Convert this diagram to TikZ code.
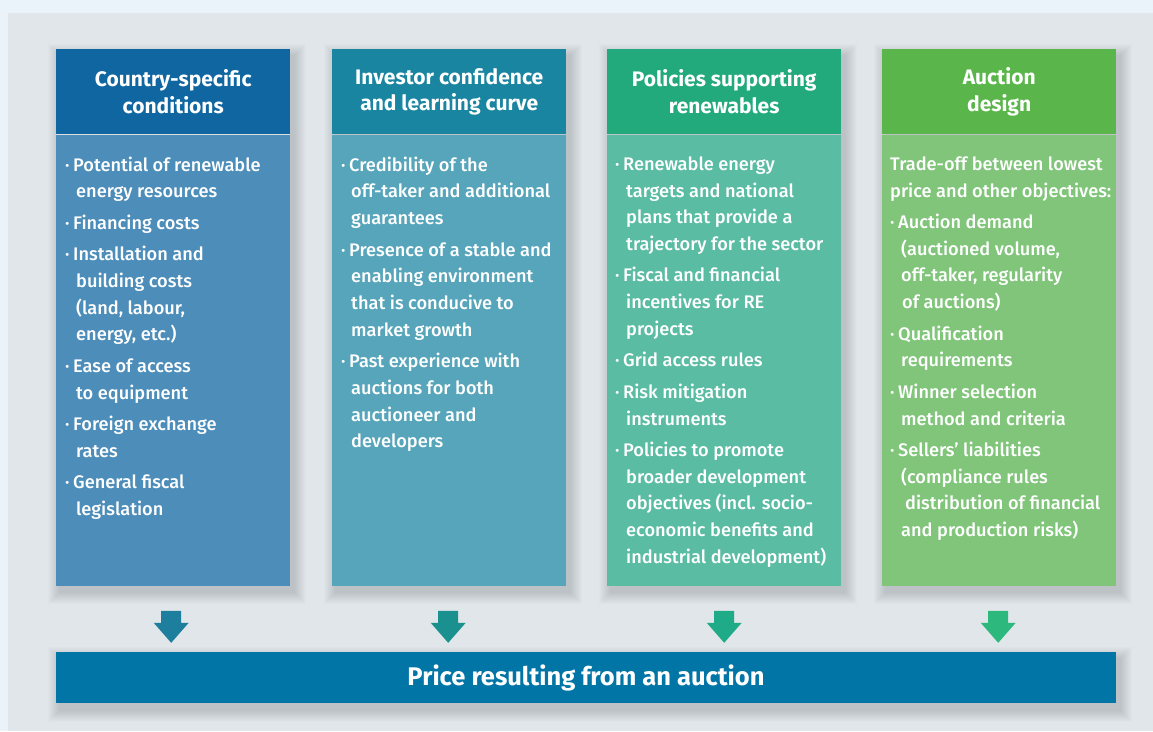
\documentclass[tikz,border=0pt]{standalone}
\usepackage{fontspec}
\setmainfont{Fira Sans}
\newfontfamily\medfont{Fira Sans Medium}
\usetikzlibrary{calc}
\definecolor{bgout}{HTML}{EAF3F9}
\definecolor{panel}{HTML}{E0E6E9}
\definecolor{hA}{HTML}{0F66A0}
\definecolor{hB}{HTML}{1A85A0}
\definecolor{hC}{HTML}{22A97C}
\definecolor{hD}{HTML}{5AB54B}
\definecolor{bA}{HTML}{4C8DB9}
\definecolor{bB}{HTML}{57A5BA}
\definecolor{bC}{HTML}{5BBCA4}
\definecolor{bD}{HTML}{80C57A}
\definecolor{aA}{HTML}{1E7E9E}
\definecolor{aB}{HTML}{1B918F}
\definecolor{aC}{HTML}{1FAB88}
\definecolor{aD}{HTML}{2DB97D}
\definecolor{barc}{HTML}{0075A6}
\newcommand\myshadow[4]{%
  \foreach \i in {1,...,12}{\fill[black,opacity=0.012] (#1-\i+4,#2-\i+7) rectangle (#3+\i+4,#4+\i+7);}}
\newcommand\myarrow[2]{%
  \fill[#2] ($(#1)+(-10,-32)$) -- ($(#1)+(10,-32)$) -- ($(#1)+(10,-20)$) -- ($(#1)+(17.5,-20)$) -- (#1) -- ($(#1)+(-17.5,-20)$) -- ($(#1)+(-10,-20)$) -- cycle;}
\tikzset{
  hdr/.style={anchor=north west, minimum width=234pt, minimum height=85pt, inner sep=0pt, text=white, align=center,
    font=\fontsize{21}{26.5}\selectfont\bfseries},
  bodybox/.style={anchor=north west, minimum width=234pt, minimum height=451pt, inner sep=0pt},
  bodytext/.style={anchor=north west, inner sep=0pt, text=white, align=left, font=\medfont\fontsize{18.2}{26.7}\selectfont},
  pricebar/.style={fill=barc, minimum width=1060pt, minimum height=51pt, inner sep=0pt, text=white,
    font=\fontsize{25.5}{28}\selectfont\bfseries}
}
\newcommand\bu{\makebox[8pt][l]{·}}
\newcommand\ci{\hspace*{11pt}}
\newcommand\gap{\\[4.8pt]}
\begin{document}
\begin{tikzpicture}[x=1pt,y=-1pt]
\useasboundingbox (0,0) rectangle (1153,731);
\fill[bgout] (0,0) rectangle (1153,731);
\fill[panel] (8,13) rectangle (1153,731);
% shadows
\myshadow{56}{49}{290}{585}
\myshadow{332}{49}{566}{585}
\myshadow{607}{49}{841}{585}
\myshadow{882}{49}{1116}{585}
\myshadow{56}{652}{1116}{703}
% columns
\node[hdr, fill=hA] (h1) at (56,49) {Country-specific\\conditions};
\node[hdr, fill=hB] (h2) at (332,49) {Investor confidence\\and learning curve};
\node[hdr, fill=hC] (h3) at (607,49) {Policies supporting\\renewables};
\node[hdr, fill=hD] (h4) at (882,49) {Auction\\design};
\node[bodybox, fill=bA] (b1) at (h1.south west) {};
\node[bodybox, fill=bB] (b2) at (h2.south west) {};
\node[bodybox, fill=bC] (b3) at (h3.south west) {};
\node[bodybox, fill=bD] (b4) at (h4.south west) {};
\draw[white, opacity=0.5, line width=0.8pt] (h1.south west) -- (h1.south east);
% texts
\node[bodytext] (t1) at ($(b1.north west)+(9,22)$) {%
\bu Potential of renewable\\\ci energy resources\gap
\bu Financing costs\gap
\bu Installation and\\\ci building costs\\\ci (land, labour,\\\ci energy, etc.)\gap
\bu Ease of access\\\ci to equipment\gap
\bu Foreign exchange\\\ci rates\gap
\bu General fiscal\\\ci legislation};
\node[bodytext] (t2) at ($(b2.north west)+(9,22)$) {%
\bu Credibility of the\\\hspace*{10pt}off-taker and additional\\\hspace*{10pt}guarantees\gap
\bu Presence of a stable and\\\hspace*{10pt}enabling environment\\\hspace*{10pt}that is conducive to\\\hspace*{10pt}market growth\gap
\bu Past experience with\\\hspace*{10pt}auctions for both\\\hspace*{10pt}auctioneer and\\\hspace*{10pt}developers};
\node[bodytext] (t3) at ($(b3.north west)+(8,22)$) {%
\bu Renewable energy\\\ci targets and national\\\ci plans that provide a\\\ci trajectory for the sector\gap
\bu Fiscal and financial\\\ci incentives for RE\\\ci projects\gap
\bu Grid access rules\gap
\bu Risk mitigation\\\ci instruments\gap
\bu Policies to promote\\\ci broader development\\\ci objectives (incl. socio-\\\ci economic benefits and\\\ci industrial development)};
\node[bodytext] (t4) at ($(b4.north west)+(8,22)$) {%
Trade-off between lowest\\price and other objectives:\gap
\bu Auction demand\\\ci (auctioned volume,\\\ci off-taker, regularity\\\ci \hspace{1pt}of auctions)\gap
\bu Qualification\\\ci requirements\gap
\bu Winner selection\\\ci method and criteria\gap
\bu Sellers’ liabilities\\\ci (compliance rules\\\ci \hspace{4pt}distribution of financial\\\ci and production risks)};
% bar
\node[pricebar] (price) at (586,677.5) {Price resulting from an auction};
% arrows
\coordinate (p1) at ($(b1.south |- price.north)+(-2,-9)$);
\coordinate (p2) at ($(b2.south |- price.north)+(-1,-9)$);
\coordinate (p3) at ($(b3.south |- price.north)+(0,-9)$);
\coordinate (p4) at ($(b4.south |- price.north)+(-1,-9)$);
\myarrow{p1}{aA}
\myarrow{p2}{aB}
\myarrow{p3}{aC}
\myarrow{p4}{aD}
\end{tikzpicture}
\end{document}
